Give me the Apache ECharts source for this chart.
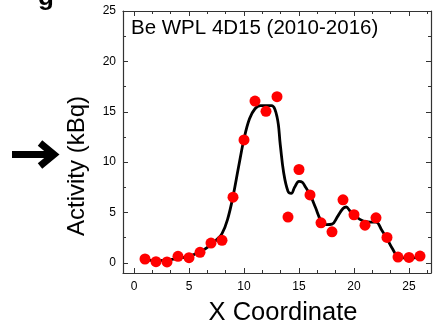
<!DOCTYPE html>
<html><head><meta charset="utf-8">
<script src="https://cdn.jsdelivr.net/npm/echarts@6/dist/echarts.min.js"></script>
<style>html,body{margin:0;padding:0;background:#fff}#c{width:435px;height:325px}</style>
</head><body><div id="c"></div>
<script>
var pointX = [1,2,3,4,5,6,7,8,9,10,11,12,13,14,15,16,17,18,19,20,21,22,23,24,25,26];
var pointY = [0.39,0.12,0.1,0.65,0.52,1.05,1.97,2.24,6.52,12.2,16.06,15.04,16.5,4.55,9.27,6.75,3.98,3.09,6.26,4.78,3.75,4.48,2.53,0.58,0.55,0.68];
var fitX = [1,2,3,4,5,6,7,7.5,8,8.5,9,9.5,10,10.5,11,11.5,12,12.5,13,13.3,13.6,14,14.3,14.6,15,15.3,15.6,16,16.5,17,17.5,18,18.5,19,19.3,19.6,20,20.5,21,21.5,22,22.5,23,23.5,24,24.5,25,26];
var fitY = [0.3,0.22,0.3,0.45,0.65,1.1,1.8,2.3,2.9,4.3,6.6,9.5,12.3,14.3,15.3,15.6,15.6,15.6,14.5,11.7,9.0,7.1,6.9,7.5,8.1,8.0,7.5,6.8,5.5,4.2,3.8,3.85,4.6,5.4,5.55,5.2,4.75,4.35,4.1,4.05,4.05,3.3,2.4,1.4,0.6,0.5,0.5,0.55];
var title = 'Be WPL 4D15 (2010-2016)';
var xName = 'X Coordinate';
var yName = 'Activity (kBq)';

var font = 'Liberation Sans, Arial, sans-serif';
var chart = echarts.init(document.getElementById('c'), null, {renderer:'canvas'});
function axisBase(extra){
  var a = {
    axisLine:{show:true,onZero:false,lineStyle:{color:'#333',width:1.2}},
    axisTick:{show:true,inside:true,length:5,lineStyle:{color:'#333'}},
    minorTick:{show:true,length:3,lineStyle:{color:'#333'}},
    splitLine:{show:false},
    axisLabel:{show:false}
  };
  for (var k in extra) a[k]=extra[k];
  return a;
}
chart.setOption({
  animation:false,
  grid:{left:123,right:4,top:11,bottom:52,containLabel:false,outerBoundsMode:'none'},
  graphic:[
    {type:'text',left:131,top:18,style:{text:title,font:'20.5px '+font,fill:'#000'}},
    {type:'text',x:38,y:-15,style:{text:'g',font:'bold 26px '+font,fill:'#000'}},
    {type:'text',x:77,y:166,rotation:Math.PI/2,style:{text:yName,font:'24px '+font,fill:'#000',align:'center',verticalAlign:'middle'}},
    {type:'text',x:283,y:313,style:{text:xName,font:'25.5px '+font,fill:'#000',align:'center',verticalAlign:'middle'}},
    {type:'line',shape:{x1:12,y1:154.5,x2:52,y2:154.5},style:{stroke:'#000',lineWidth:7}},
    {type:'polyline',shape:{points:[[40,143],[54,154.5],[40,166]]},style:{stroke:'#000',lineWidth:7,fill:null,lineJoin:'miter'}}
  ],
  xAxis:[
    axisBase({type:'value',position:'bottom',min:-1,max:27,splitNumber:6,
      minorTick:{show:true,splitNumber:3,length:3,lineStyle:{color:'#333'}},
      axisLabel:{show:true,showMinLabel:false,showMaxLabel:false,color:'#000',fontSize:12,fontFamily:font,margin:8}}),
    axisBase({type:'value',position:'top',min:-1,max:27,splitNumber:6,
      minorTick:{show:true,splitNumber:3,length:3,lineStyle:{color:'#333'}}})
  ],
  yAxis:[
    axisBase({type:'value',position:'left',min:-1,max:25,splitNumber:5,
      minorTick:{show:true,splitNumber:2,length:3,lineStyle:{color:'#333'}},
      axisLabel:{show:true,showMinLabel:false,color:'#000',fontSize:12,fontFamily:font,margin:7}}),
    axisBase({type:'value',position:'right',min:-1,max:25,splitNumber:5,
      minorTick:{show:true,splitNumber:2,length:3,lineStyle:{color:'#333'}}})
  ],
  series:[
    {type:'line',xAxisIndex:0,yAxisIndex:0,smooth:0.4,symbol:'none',
     data:fitX.map(function(x,i){return [x,fitY[i]];}),
     lineStyle:{color:'#000',width:2.8},z:2},
    {type:'scatter',xAxisIndex:0,yAxisIndex:0,symbolSize:11,
     data:pointX.map(function(x,i){return [x,pointY[i]];}),
     itemStyle:{color:'#ff0000',opacity:1},z:3}
  ]
});
</script></body></html>
